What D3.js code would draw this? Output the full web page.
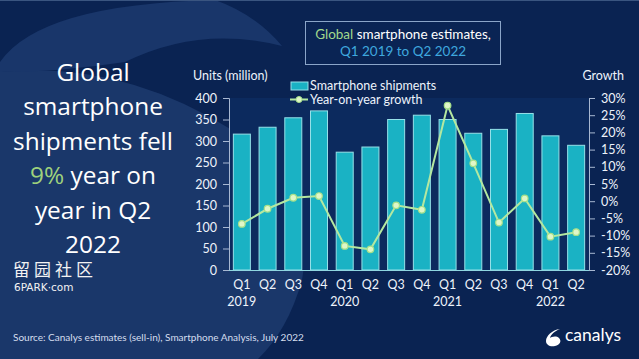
<!DOCTYPE html>
<html><head><meta charset="utf-8">
<script src="https://cdn.jsdelivr.net/npm/d3@7"></script>
<style>html,body{margin:0;padding:0;background:#0b2454;}svg{display:block;font-family:Lato,"Open Sans",sans-serif;}</style>
</head><body>
<script>
const quarters = ["Q1","Q2","Q3","Q4","Q1","Q2","Q3","Q4","Q1","Q2","Q3","Q4","Q1","Q2"];
const years = ["2019","2020","2021","2022"];
const shipments = [316, 332, 354, 370, 274, 286, 350, 360, 350, 318, 327, 364, 312, 290];
const growth = [-6.6, -2.2, 1.0, 1.5, -13.0, -14.0, -1.2, -2.5, 27.8, 11.0, -6.2, 0.8, -10.3, -9.0];
const leftTicks = [0, 50, 100, 150, 200, 250, 300, 350, 400];
const rightTicks = [-20, -15, -10, -5, 0, 5, 10, 15, 20, 25, 30];
const headline = ["Global", "smartphone", "shipments fell", "9%| year on", "year in Q2", "2022"];

const W = 639, H = 359;
const svg = d3.select("body").append("svg").attr("width", W).attr("height", H);

// background
svg.append("rect").attr("width", W).attr("height", H).attr("fill", "#0a2352");
svg.append("path").attr("d", "M0,72 Q120,60 232,130 Q318,198 302,280 Q288,330 258,359 L0,359 Z").attr("fill", "#1a376a");
svg.append("path").attr("d", "M0,62 Q40,4 215,0 Q255,14 282,46 Q200,25 125,62 Q60,72 0,72 Z").attr("fill", "#19366a");
svg.append("line").attr("x1", 0).attr("x2", W).attr("y1", 0.5).attr("y2", 0.5).attr("stroke", "#3a5580");

const m = {l: 229, r: 589, t: 98, b: 270};
svg.append("rect").attr("x", m.l).attr("y", m.t).attr("width", m.r - m.l).attr("height", m.b - m.t).attr("fill", "#0c2a5e");

const x = d3.scaleBand().domain(d3.range(quarters.length)).range([m.l, m.r]).paddingInner(0.3).paddingOuter(0.15);
const yL = d3.scaleLinear().domain([0, 400]).range([m.b, m.t]);
const yR = d3.scaleLinear().domain([-20, 30]).range([m.b, m.t]);

// bars
svg.append("g").selectAll("rect").data(shipments).join("rect")
  .attr("x", (d, i) => x(i) + 0.5).attr("width", x.bandwidth() - 1)
  .attr("y", d => yL(d)).attr("height", d => yL(0) - yL(d))
  .attr("fill", "#1ab2c4").attr("stroke", "#96e0e8").attr("stroke-width", 1);

// axes
const axL = svg.append("g").attr("transform", `translate(${m.l},0)`)
  .call(d3.axisLeft(yL).tickValues(leftTicks).tickSize(6).tickPadding(6));
const axR = svg.append("g").attr("transform", `translate(${m.r},0)`)
  .call(d3.axisRight(yR).tickValues(rightTicks).tickSize(6).tickPadding(6).tickFormat(d => d + "%"));
[axL, axR].forEach(g => {
  g.select(".domain").attr("stroke", "#a8b8d2");
  g.selectAll(".tick line").attr("stroke", "#a8b8d2");
  g.selectAll(".tick text").attr("fill", "#eef3fb").attr("font-size", 12.5).attr("font-family", "Lato");
});
svg.append("line").attr("x1", m.l).attr("x2", m.r).attr("y1", m.b + 0.5).attr("y2", m.b + 0.5).attr("stroke", "#8fd6e0").attr("stroke-width", 1.2);

// x labels
const xl = svg.append("g").attr("fill", "#eef3fb").attr("font-size", 12.5).attr("text-anchor", "middle");
xl.selectAll("text.q").data(quarters).join("text").attr("class", "q")
  .attr("x", (d, i) => x(i) + x.bandwidth() / 2).attr("y", 289).text(d => d);
xl.selectAll("text.y").data(years).join("text").attr("class", "y")
  .attr("x", (d, i) => x(i * 4) + x.bandwidth() / 2).attr("y", 306).text(d => d);

// growth line
const line = d3.line().x((d, i) => x(i) + x.bandwidth() / 2).y(d => yR(d));
svg.append("path").datum(growth).attr("d", line).attr("fill", "none").attr("stroke", "#b4e8a0").attr("stroke-width", 2);
svg.append("g").selectAll("circle").data(growth).join("circle")
  .attr("cx", (d, i) => x(i) + x.bandwidth() / 2).attr("cy", d => yR(d)).attr("r", 3.3)
  .attr("fill", "#e0f7c8").attr("stroke", "#a6e08a").attr("stroke-width", 1.2);

// axis titles
svg.append("text").attr("x", 193).attr("y", 80).attr("fill", "#eef3fb").attr("font-size", 12.5).text("Units (million)");
svg.append("text").attr("x", 624).attr("y", 80).attr("text-anchor", "end").attr("fill", "#eef3fb").attr("font-size", 12.5).text("Growth");

// legend
const lg = svg.append("g").attr("font-size", 12.5).attr("fill", "#eef3fb");
lg.append("rect").attr("x", 291).attr("y", 82).attr("width", 17).attr("height", 8).attr("fill", "#1ab2c4").attr("stroke", "#96e0e8");
lg.append("text").attr("x", 310).attr("y", 90).text("Smartphone shipments");
lg.append("line").attr("x1", 290).attr("x2", 308).attr("y1", 99.5).attr("y2", 99.5).attr("stroke", "#b4e8a0").attr("stroke-width", 2);
lg.append("circle").attr("cx", 299).attr("cy", 99.5).attr("r", 3).attr("fill", "#e0f7c8").attr("stroke", "#a6e08a");
lg.append("text").attr("x", 310).attr("y", 104).text("Year-on-year growth");

// title box
svg.append("rect").attr("x", 305.5).attr("y", 21.5).attr("width", 195).attr("height", 43).attr("fill", "#0a2454").attr("stroke", "#8ba5c9");
const t1 = svg.append("text").attr("x", 403).attr("y", 39).attr("text-anchor", "middle").attr("font-size", 13.5);
t1.append("tspan").attr("fill", "#a2d98c").text("Global");
t1.append("tspan").attr("fill", "#ffffff").text(" smartphone estimates,");
svg.append("text").attr("x", 403).attr("y", 56).attr("text-anchor", "middle").attr("font-size", 13.5).attr("fill", "#3fa8df").text("Q1 2019 to Q2 2022");

// headline
const hl = svg.append("g").attr("font-family", "'Open Sans'").attr("font-size", 23).attr("text-anchor", "middle").attr("fill", "#ffffff");
const hlTexts = [];
headline.forEach((s, i) => {
  const t = hl.append("text").attr("x", 93).attr("y", 81 + i * 34.4);
  const parts = s.split("|");
  if (parts.length > 1) {
    t.append("tspan").attr("fill", "#9fd27c").text(parts[0]);
    t.append("tspan").text(parts[1]);
  } else t.text(s);
  hlTexts.push(t);
});
const wRef = hlTexts[2].node().getComputedTextLength();
if (wRef > 0) hl.attr("font-size", 23 * 160 / wRef);

// watermark
svg.append("text").attr("x", 13).attr("y", 276).attr("font-family", "Noto Sans CJK SC").attr("font-size", 17).attr("letter-spacing", 4).attr("fill", "#f2f2f2").text("留园社区");
svg.append("text").attr("x", 14).attr("y", 291).attr("font-family", "DejaVu Sans").attr("font-size", 10.5).attr("fill", "#f2f2f2").text("6PARK·com");

// source
svg.append("text").attr("x", 13).attr("y", 341).attr("font-size", 10).attr("fill", "#d5deee").text("Source: Canalys estimates (sell-in), Smartphone Analysis, July 2022");

// logo
const lo = svg.append("g");
lo.append("path").attr("d", "M560,329 C552,330 546,336 546,341 C546,345 550,347 555,346 C560,345 562,341 559,338 C556,335 551,337 550,338 C551,334 555,331 560,329 Z").attr("fill", "#ffffff");
lo.append("text").attr("x", 565).attr("y", 341).attr("font-size", 17.5).attr("fill", "#ffffff").text("canalys");
</script>
</body></html>
